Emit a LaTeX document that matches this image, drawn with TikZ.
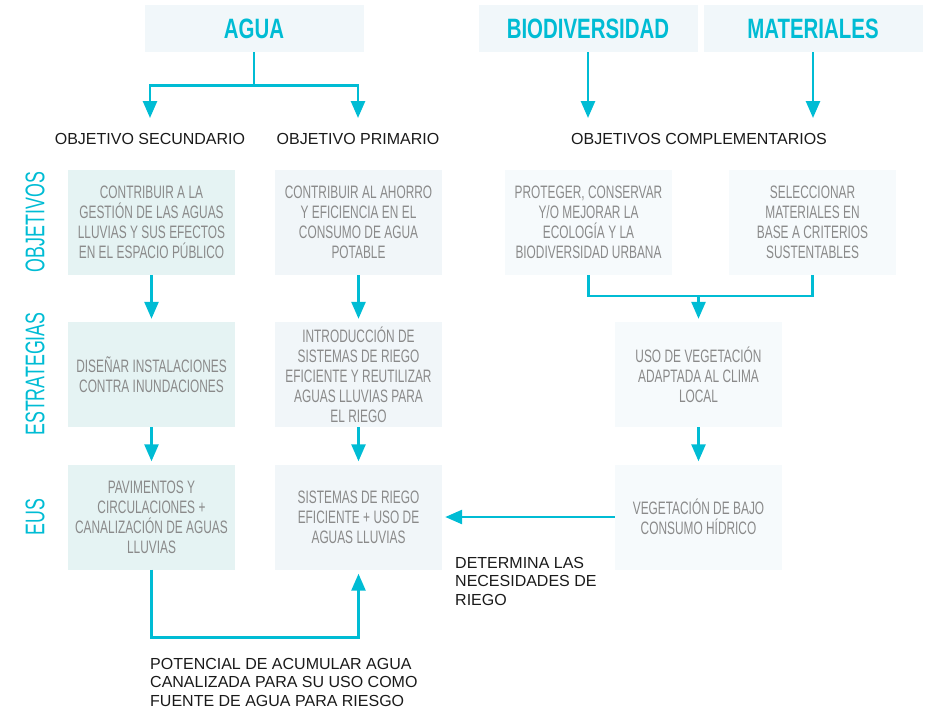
\documentclass[tikz,border=0pt]{standalone}
\usepackage{fontspec}
\setmainfont{Liberation Sans}
\newfontfamily\condfont[FakeStretch=0.66]{Liberation Sans}
\newfontfamily\headfont[FakeStretch=0.73]{Liberation Sans}
\newfontfamily\sidefont[FakeStretch=0.66]{Liberation Sans}
\newcommand\myboxfont{\condfont\fontsize{18}{20}\selectfont\fontdimen2\font=3.4pt\fontdimen3\font=0pt\fontdimen4\font=0pt}
\usetikzlibrary{arrows.meta,calc}
\definecolor{cy}{RGB}{0,188,212}
\definecolor{hdrfill}{HTML}{F1F7FA}
\definecolor{leftfill}{HTML}{E5F3F3}
\definecolor{midfill}{HTML}{F1F6F9}
\definecolor{rightfill}{HTML}{F6FAFC}
\definecolor{boxtext}{HTML}{8A8A8A}
\definecolor{lbltext}{HTML}{1A1A1A}
\begin{document}
\begin{tikzpicture}[x=1pt,y=-1pt,
  hdr/.style={fill=hdrfill, minimum width=219pt, minimum height=47pt, inner sep=0pt,
    font=\headfont\bfseries\fontsize{28}{30}\selectfont, text=cy},
  box/.style={minimum width=167pt, minimum height=105pt, inner sep=0pt,
    align=center, font=\myboxfont, text=boxtext},
  lbl/.style={font=\fontsize{16}{18.5}\selectfont, text=lbltext, inner sep=0pt},
  side/.style={font=\sidefont\fontsize{27}{30}\selectfont, text=cy, rotate=90, inner sep=0pt},
  con/.style={draw=cy, line width=2.6pt},
  arr/.style={draw=cy, line width=2.6pt, -{Triangle[length=17pt,width=14pt]}}
]
\useasboundingbox (0,0) rectangle (925,713);

% headers
\node[hdr] (hAgua) at (254,28.5) {AGUA};
\node[hdr] (hBio) at (588,28.5) {BIODIVERSIDAD};
\node[hdr] (hMat) at (813,28.5) {MATERIALES};

% labels
\node[lbl] (lSec) at (150,139) {OBJETIVO SECUNDARIO};
\node[lbl] (lPri) at (358,139) {OBJETIVO PRIMARIO};
\node[lbl] (lComp) at (699,139) {OBJETIVOS COMPLEMENTARIOS};

\coordinate (tS) at (150,118);
\coordinate (tP) at (358,118);
\coordinate (tB) at (588,118);
\coordinate (tM) at (813,118);

% side labels
\node[side] (sObj) at (35,222) {OBJETIVOS};
\node[side] (sEst) at (35,374) {ESTRATEGIAS};
\node[side] (sEus) at (35,517) {EUS};

% boxes row 1
\node[box, fill=leftfill] (o1) at (151.5,222.5) {CONTRIBUIR A LA\\GESTIÓN DE LAS AGUAS\\LLUVIAS Y SUS EFECTOS\\EN EL ESPACIO PÚBLICO};
\node[box, fill=midfill] (o2) at (358.5,222.5) {CONTRIBUIR AL AHORRO\\Y EFICIENCIA EN EL\\CONSUMO DE AGUA\\POTABLE};
\node[box, fill=rightfill] (o3) at (588.5,222.5) {PROTEGER, CONSERVAR\\Y/O MEJORAR LA\\ECOLOGÍA Y LA\\BIODIVERSIDAD URBANA};
\node[box, fill=rightfill] (o4) at (812.5,222.5) {SELECCIONAR\\MATERIALES EN\\BASE A CRITERIOS\\SUSTENTABLES};

% row 2
\node[box, fill=leftfill] (e1) at (151.5,374.5) {DISEÑAR INSTALACIONES\\CONTRA INUNDACIONES};
\node[box, fill=midfill] (e2) at (358.5,374.5) {INTRODUCCIÓN DE\\SISTEMAS DE RIEGO\\EFICIENTE Y REUTILIZAR\\AGUAS LLUVIAS PARA\\EL RIEGO};
\node[box, fill=rightfill] (e3) at (698.5,374.5) {USO DE VEGETACIÓN\\ADAPTADA AL CLIMA\\LOCAL};

% row 3
\node[box, fill=leftfill] (u1) at (151.5,517) {PAVIMENTOS Y\\CIRCULACIONES +\\CANALIZACIÓN DE AGUAS\\LLUVIAS};
\node[box, fill=midfill] (u2) at (358.5,517) {SISTEMAS DE RIEGO\\EFICIENTE + USO DE\\AGUAS LLUVIAS};
\node[box, fill=rightfill] (u3) at (698.5,517) {VEGETACIÓN DE BAJO\\CONSUMO HÍDRICO};

% notes
\node[lbl, anchor=north west, align=left] (det) at (455,557) {DETERMINA LAS\\NECESIDADES DE\\RIEGO};
\node[lbl, anchor=north west, align=left] (pot) at (150,658) {POTENCIAL DE ACUMULAR AGUA\\CANALIZADA PARA SU USO COMO\\FUENTE DE AGUA PARA RIESGO};

% connectors
\draw[arr] (hAgua.south) -- ++(0,33) -| (tS);
\draw[arr] (hAgua.south) -- ++(0,33) -| (tP);
\draw[arr] (hBio.south) -- (tB);
\draw[arr] (hMat.south) -- (tM);

\draw[arr, shorten >=3pt] (o1.south) -- (e1.north);
\draw[arr, shorten >=3pt] (o2.south) -- (e2.north);
\draw[arr, shorten >=3pt] (e1.south) -- (u1.north);
\draw[arr, shorten >=3pt] (e2.south) -- (u2.north);

\coordinate (mg) at (698.5,296);
\draw[con] (o3.south) |- (mg) -| (o4.south);
\draw[arr, shorten >=3pt] (mg) -- (e3.north);
\draw[arr, shorten >=3pt] (e3.south) -- (u3.north);

\draw[arr, shorten >=3pt] (u3.west) -- (u2.east);
\draw[arr, shorten >=4pt] (u1.south) -- ++(0,68) -| (u2.south);
\end{tikzpicture}
\end{document}
